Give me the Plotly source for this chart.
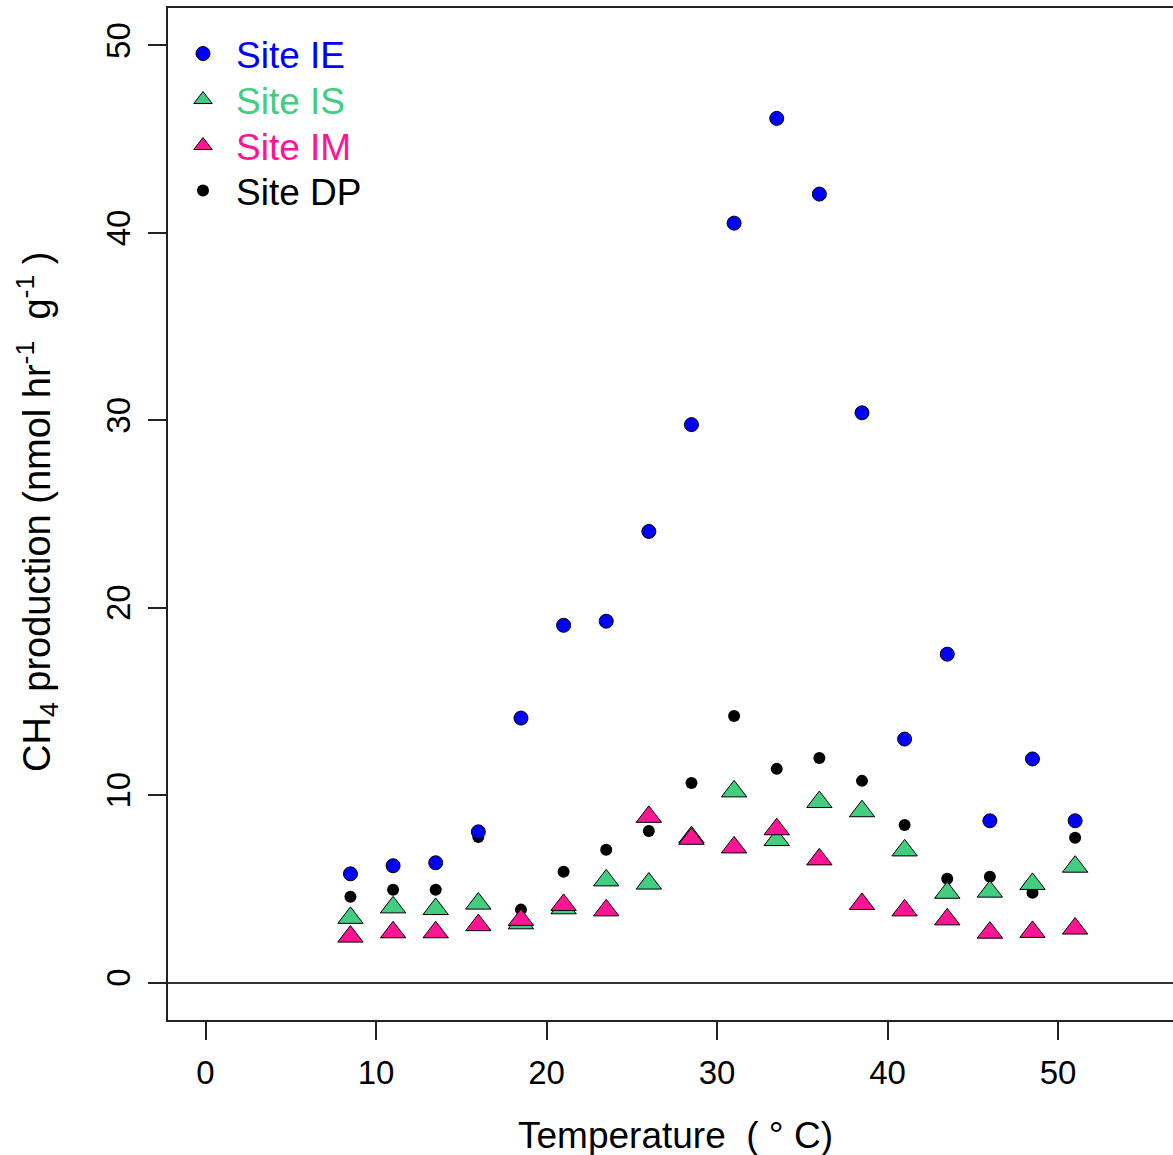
import plotly.graph_objects as go

temperature = [8.5, 11, 13.5, 16, 18.5, 21, 23.5, 26, 28.5, 31, 33.5, 36, 38.5, 41, 43.5, 46, 48.5, 51]
site_ie = [5.80, 6.23, 6.39, 8.04, 14.11, 19.06, 19.28, 24.07, 29.77, 40.52, 46.11, 42.07, 30.40, 12.99, 17.52, 8.63, 11.93, 8.63]
site_is = [3.45, 4.01, 3.92, 4.21, 3.16, 3.96, 5.45, 5.28, 7.75, 10.20, 7.60, 9.63, 9.14, 7.05, 4.79, 4.85, 5.26, 6.18]
site_im = [2.45, 2.68, 2.68, 3.06, 3.34, 4.14, 3.85, 8.84, 7.67, 7.21, 8.18, 6.57, 4.19, 3.85, 3.37, 2.66, 2.70, 2.88]
site_dp = [4.58, 4.95, 4.95, 7.77, 3.89, 5.91, 7.08, 8.09, 10.65, 14.22, 11.40, 11.98, 10.76, 8.41, 5.54, 5.64, 4.79, 7.72]

x_ticks = [0, 10, 20, 30, 40, 50]
y_ticks = [0, 10, 20, 30, 40, 50]

FONT = "Liberation Sans, Arial, sans-serif"
BLUE = "#0000FF"
GREEN = "#43CD80"
PINK = "#FF1493"
BLACK = "#000000"

W, H = 1173, 1155
L, R, T, B = 168, 0, 8, 135
pw = W - L - R
ph = H - T - B


def py(pix):
    return 1 - (pix - T) / ph


fig = go.Figure()

fig.add_trace(go.Scatter(
    x=temperature, y=site_dp, mode="markers", legend="legend4",
    name=f"<span style='color:{BLACK}'>Site DP</span>",
    marker=dict(symbol="circle", size=12, color=BLACK, line=dict(color=BLACK, width=0)),
))
fig.add_trace(go.Scatter(
    x=temperature, y=site_ie, mode="markers", legend="legend",
    name=f"<span style='color:{BLUE}'>Site IE</span>",
    marker=dict(symbol="circle", size=14, color=BLUE, line=dict(color=BLACK, width=1)),
))
fig.add_trace(go.Scatter(
    x=temperature, y=site_is, mode="markers", legend="legend2",
    name=f"<span style='color:{GREEN}'>Site IS</span>",
    marker=dict(symbol="triangle-up", size=22, color=GREEN, line=dict(color=BLACK, width=1)),
))
fig.add_trace(go.Scatter(
    x=temperature, y=site_im, mode="markers", legend="legend3",
    name=f"<span style='color:{PINK}'>Site IM</span>",
    marker=dict(symbol="triangle-up", size=22, color=PINK, line=dict(color=BLACK, width=1)),
))


def leg(center_pix):
    return dict(
        x=(170 - L) / pw, y=py(center_pix), xanchor="left", yanchor="middle",
        bgcolor="rgba(0,0,0,0)", borderwidth=0,
        font=dict(family=FONT, size=37),
        itemwidth=56,
    )


fig.update_layout(
    width=W, height=H,
    margin=dict(l=L, r=R, t=T, b=B, pad=0),
    paper_bgcolor="white", plot_bgcolor="white",
    font=dict(family=FONT, color="black"),
    showlegend=True,
    legend=leg(54),
    legend2=leg(100),
    legend3=leg(146),
    legend4=leg(191),
    xaxis=dict(
        range=[-2.2, 56.74], tickvals=x_ticks, ticktext=[str(v) for v in x_ticks],
        ticks="outside", ticklen=18, tickwidth=1.5, tickcolor="#222",
        showline=True, linecolor="#222", linewidth=1.5, mirror=True,
        showgrid=False, zeroline=False,
        tickfont=dict(family=FONT, size=33), ticklabelstandoff=5,
    ),
    yaxis=dict(
        range=[-2, 52], tickvals=y_ticks, ticktext=[str(v) for v in y_ticks],
        ticks="outside", ticklen=18, tickwidth=1.5, tickcolor="#222",
        showline=True, linecolor="#222", linewidth=1.5, mirror=False,
        showgrid=False, zeroline=True, zerolinecolor="#333", zerolinewidth=1.5,
        tickangle=-90, tickfont=dict(family=FONT, size=33), ticklabelstandoff=5,
    ),
    annotations=[
        dict(
            text="Temperature\u00a0\u00a0(\u00a0°\u00a0C)",
            xref="paper", yref="paper",
            x=(675 - L) / pw, y=py(1135),
            xanchor="center", yanchor="middle", showarrow=False,
            font=dict(family=FONT, size=37),
        ),
        dict(
            text="CH<sub>4</sub> production (nmol hr<sup>-1</sup>\u00a0\u00a0g<sup>-1</sup>\u00a0)",
            xref="paper", yref="paper",
            x=(37 - L) / pw, y=py(512),
            xanchor="center", yanchor="middle", showarrow=False, textangle=-90,
            font=dict(family=FONT, size=38),
        ),
    ],
)

fig.write_html("out.html")
